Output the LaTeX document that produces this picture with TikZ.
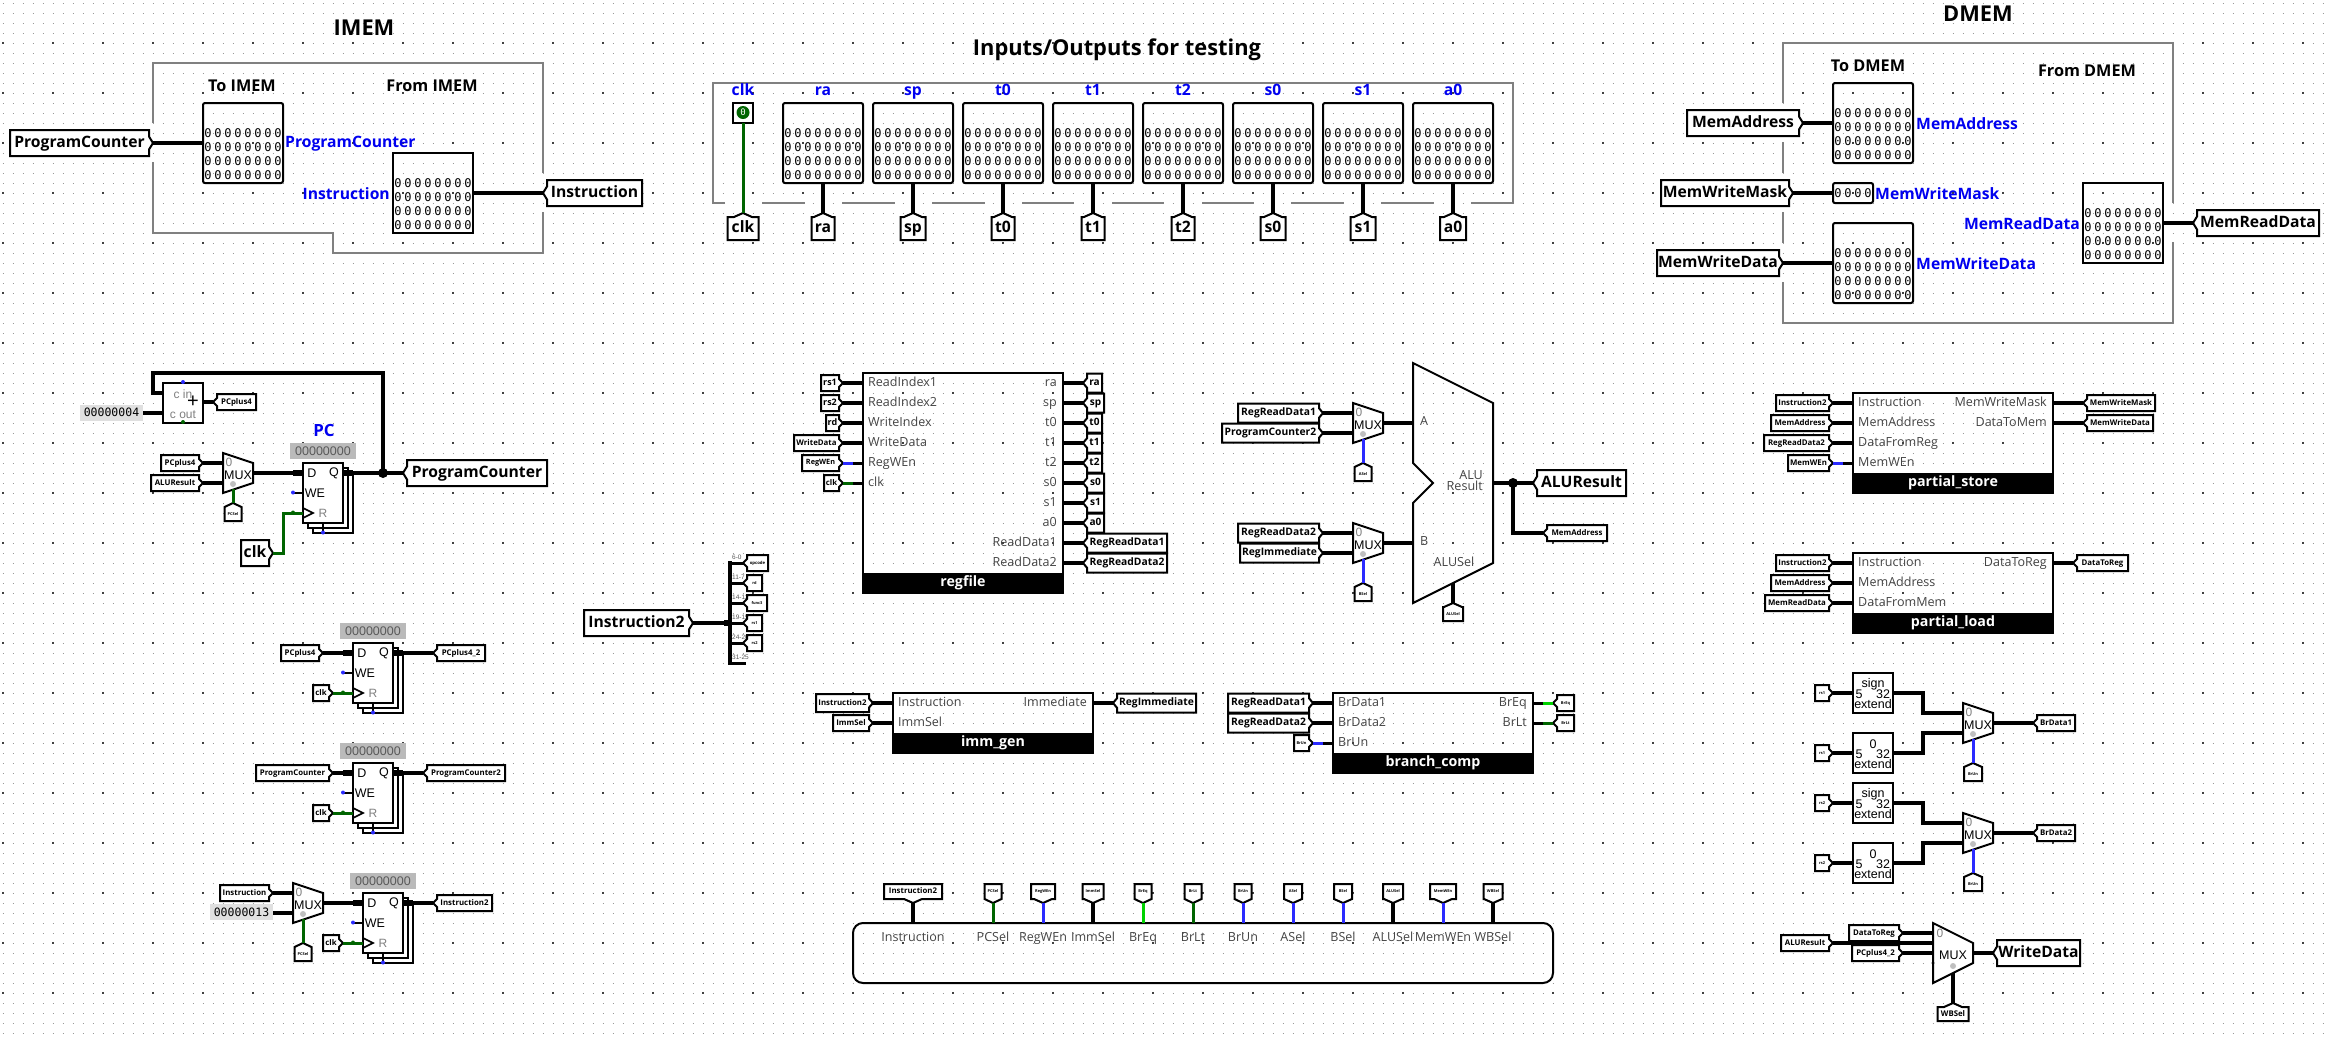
\documentclass[tikz,border=0pt]{standalone}
\usepackage{fontspec}
\setmainfont[Scale=1.12]{Open Sans}
\newfontfamily\hvf{Liberation Sans}
\newfontfamily\dmono{DejaVu Sans Mono}
\newfontfamily\pinmono[LetterSpace=23]{DejaVu Sans Mono}
\definecolor{dkgreen}{HTML}{006400}
\definecolor{brgreen}{HTML}{00D200}
\definecolor{wblue}{HTML}{2A2AFF}
\definecolor{lblue}{HTML}{0000F0}
\definecolor{frameg}{HTML}{808080}
\definecolor{portg}{HTML}{444444}
\tikzset{
 x=1pt,y=-1pt,
 bus/.style={line width=4pt,black,line join=miter},
 stub/.style={line width=6pt,black},
 gw/.style={line width=3pt,dkgreen,line join=miter},
 bw/.style={line width=3pt,wblue,line join=miter},
 lw/.style={line width=3pt,brgreen},
 frameline/.style={line width=2.8pt,frameg,line join=miter},
 tunshape/.style={draw=black,line width=2pt,fill=white,line join=miter},
 tuntext/.style={inner sep=0pt,outer sep=0pt,font=\bfseries},
 titletext/.style={inner sep=0pt,font=\bfseries\fontsize{19.5}{20}\selectfont},
 headtext/.style={inner sep=0pt,font=\bfseries\fontsize{14.5}{15}\selectfont},
 bluetext/.style={inner sep=0pt,text=lblue,font=\bfseries\fontsize{14}{15}\selectfont},
 porttext/.style={inner sep=0pt,text=portg,font=\fontsize{11.2}{12}\selectfont},
 subbox/.style={draw=black,line width=2pt,inner sep=0pt,outer sep=0pt},
 bandtext/.style={inner sep=0pt,text=white,font=\bfseries\fontsize{12.7}{13}\selectfont},
 pinout/.style={draw=black,line width=2pt,rounded corners=2pt,inner sep=0pt,outer sep=0pt},
 pinin/.style={draw=black,line width=2pt,inner sep=0pt,outer sep=0pt},
 rows/.style={inner sep=0pt,align=center,font=\pinmono\fontsize{12}{14}\selectfont},
 hvtext/.style={inner sep=0pt,font=\hvf\fontsize{12.5}{13}\selectfont},
 graylab/.style={inner sep=0pt,text=gray,font=\hvf\fontsize{12}{13}\selectfont},
 constbox/.style={fill=black!12,inner sep=0pt,outer sep=0pt,minimum width=63pt,minimum height=16pt,font=\dmono\fontsize{11.5}{12}\selectfont},
 initbox/.style={fill=black!27,text=black!65,inner sep=0pt,minimum width=66pt,minimum height=16pt,font=\hvf\fontsize{12.5}{13}\selectfont},
 partshape/.style={draw=black,line width=2pt,fill=white,line join=miter},
 splitlab/.style={inner sep=0pt,text=black!65,font=\hvf\fontsize{6.5}{7}\selectfont}
}
% tunnels: name, tip x, tip y, far edge, size across, font size, text
\newcommand\tunE[7]{\coordinate (#1) at (#2,#3);
 \draw[tunshape] (#4,{#3-#5/2}) -- ({#2-4},{#3-#5/2}) -- ({#2-4},{#3-#5/4}) -- (#2,#3) -- ({#2-4},{#3+#5/4}) -- ({#2-4},{#3+#5/2}) -- (#4,{#3+#5/2}) -- cycle;
 \node[tuntext] (#1-t) at ({(#4+#2-4)/2},#3) {\fontsize{#6}{#6}\selectfont\rule[-.2em]{0pt}{.95em}#7};}
\newcommand\tunW[7]{\coordinate (#1) at (#2,#3);
 \draw[tunshape] (#4,{#3-#5/2}) -- ({#2+4},{#3-#5/2}) -- ({#2+4},{#3-#5/4}) -- (#2,#3) -- ({#2+4},{#3+#5/4}) -- ({#2+4},{#3+#5/2}) -- (#4,{#3+#5/2}) -- cycle;
 \node[tuntext] (#1-t) at ({(#4+#2+4)/2},#3) {\fontsize{#6}{#6}\selectfont\rule[-.2em]{0pt}{.95em}#7};}
% name, x, tip y, far y, width, font size, text
\newcommand\tunN[7]{\coordinate (#1) at (#2,#3);
 \draw[tunshape] (#2,#3) -- ({#2+min(#5/2,9)},{#3+4}) -- ({#2+#5/2},{#3+4}) -- ({#2+#5/2},#4) -- ({#2-#5/2},#4) -- ({#2-#5/2},{#3+4}) -- ({#2-min(#5/2,9)},{#3+4}) -- cycle;
 \node[tuntext] (#1-t) at (#2,{(#4+#3+4)/2}) {\fontsize{#6}{#6}\selectfont\rule[-.2em]{0pt}{.95em}#7};}
\newcommand\tunS[7]{\coordinate (#1) at (#2,#3);
 \draw[tunshape] (#2,#3) -- ({#2+min(#5/2,9)},{#3-4}) -- ({#2+#5/2},{#3-4}) -- ({#2+#5/2},#4) -- ({#2-#5/2},#4) -- ({#2-#5/2},{#3-4}) -- ({#2-min(#5/2,9)},{#3-4}) -- cycle;
 \node[tuntext] (#1-t) at (#2,{(#4+#3-4)/2}) {\fontsize{#6}{#6}\selectfont\rule[-.2em]{0pt}{.95em}#7};}
% pin: name, style, centre x, top y
\newcommand\pinbox[4]{\node[#2,minimum width=80pt,minimum height=80pt] (#1) at (#3,{#4+40}) {};
 \node[rows] (#1-r) at (#3,{#4+51}) {00000000\\00000000\\00000000\\00000000};}
% mux: name, x, y
\newcommand\muxbox[3]{\draw[partshape] (#2,#3) -- ({#2+30},{#3+10}) -- ({#2+30},{#3+30}) -- (#2,{#3+40}) -- cycle;
 \node[hvtext] (#1-m) at ({#2+15},{#3+22}) {MUX};
 \node[graylab] (#1-z) at ({#2+6},{#3+9}) {0};
 \fill[black!25] ({#2+10},{#3+31}) circle (3);
 \coordinate (#1-a) at (#2,{#3+10}); \coordinate (#1-b) at (#2,{#3+30});
 \coordinate (#1-o) at ({#2+30},{#3+20}); \coordinate (#1-s) at ({#2+10},{#3+36});}
% register: name, x, y
\newcommand\regbox[3]{
 \draw[black,line width=1.6pt,line join=miter] ({#2+40},{#3+5}) -- ({#2+45},{#3+5}) -- ({#2+45},{#3+65}) -- ({#2+5},{#3+65}) -- ({#2+5},{#3+60});
 \draw[black,line width=1.6pt,line join=miter] ({#2+45},{#3+10}) -- ({#2+50},{#3+10}) -- ({#2+50},{#3+70}) -- ({#2+10},{#3+70}) -- ({#2+10},{#3+65});
 \draw[black,line width=1.6pt] ({#2+20},{#3+60}) -- ({#2+20},{#3+69});
 \node[partshape,minimum width=40pt,minimum height=60pt,inner sep=0pt,outer sep=0pt] (#1) at ({#2+20},{#3+30}) {};
 \node[initbox] (#1-i) at ({#2+20},{#3-12}) {00000000};
 \node[hvtext] (#1-d) at ({#2+9},{#3+10}) {D};
 \node[hvtext] (#1-q) at ({#2+31},{#3+10}) {Q};
 \node[hvtext] (#1-e) at ({#2+12},{#3+30}) {WE};
 \node[graylab] (#1-f) at ({#2+20},{#3+50}) {R};
 \draw[black,line width=1.6pt,line join=miter] (#2,{#3+45}) -- ({#2+10},{#3+50}) -- (#2,{#3+55});
 \draw[black,line width=1.6pt] ({#2-10},{#3+30}) -- (#2,{#3+30});
 \fill[wblue] ({#2-10},{#3+29.5}) circle (2);
 \fill[wblue] ({#2+20},{#3+69.5}) circle (2);
 \coordinate (#1-D) at (#2,{#3+10}); \coordinate (#1-Q) at ({#2+40},{#3+10}); \coordinate (#1-C) at (#2,{#3+50});
 \draw[stub] ({#2-10},{#3+10}) -- (#2,{#3+10});
 \draw[stub] ({#2+40},{#3+10}) -- ({#2+50},{#3+10});}
% extender: name, x, y, top word
\newcommand\extbox[4]{\node[partshape,minimum width=40pt,minimum height=40pt,inner sep=0pt,outer sep=0pt] (#1) at ({#2+20},{#3+20}) {};
 \node[hvtext] (#1-a) at ({#2+20},{#3+11}) {#4};
 \node[hvtext] (#1-b) at ({#2+6},{#3+21}) {5};
 \node[hvtext] (#1-c) at ({#2+30},{#3+21}) {32};
 \node[hvtext] (#1-d) at ({#2+20},{#3+31}) {extend};}
% subcircuit: name, x1, y1, x2, y2, band top, band text
\newcommand\subcirc[7]{\fill[black] (#2,#6) rectangle (#4,#5);
 \node[subbox,minimum width={#4-#2},minimum height={#5-#3}] (#1) at ({(#2+#4)/2},{(#3+#5)/2}) {};
 \node[bandtext] (#1-b) at ({(#2+#4)/2},{(#6+#5)/2}) {\rule[-.2em]{0pt}{.95em}#7};}
\newcommand\plab[4]{\node[porttext,anchor=west] (#1) at (#2,#3) {\rule[-.2em]{0pt}{.95em}#4};}
\newcommand\prab[4]{\node[porttext,anchor=east] (#1) at (#2,#3) {\rule[-.2em]{0pt}{.95em}#4};}
\begin{document}
\begin{tikzpicture}
\useasboundingbox (0,0) rectangle (2330,1042);
\fill[white] (0,0) rectangle (2330,1042);
% grid
\foreach \j in {0,...,103} \draw[black!40,line width=1pt,dash pattern=on 1pt off 9pt] (2.5,{3+10*\j}) -- (2330,{3+10*\j});
\foreach \j in {0,...,19} \draw[black!75,line width=1.4pt,dash pattern=on 1.4pt off 48.6pt] (2.3,{43+50*\j}) -- (2330,{43+50*\j});

% ---------- IMEM
\node[titletext] (timem) at (364,28) {IMEM};
\draw[frameline] (153,123) -- (153,63) -- (543,63) -- (543,173);
\draw[frameline] (543,212) -- (543,253) -- (333,253) -- (333,233) -- (153,233) -- (153,162);
\node[headtext] (toimem) at (242,86) {To IMEM};
\node[headtext] (fromimem) at (432,86) {From IMEM};
\tunE{pcA}{153}{143}{10}{26}{14}{ProgramCounter}
\tunW{insA}{543}{193}{642}{26}{14}{Instruction}
\pinbox{pimem}{pinout}{243}{103}
\pinbox{pins}{pinin}{433}{153}
\node[bluetext,anchor=west] (lpc) at (285,144) {ProgramCounter};
\node[bluetext,anchor=east] (lin) at (390,194) {Instruction};
\draw[bus] (pcA) -- (pcA -| pimem.west);
\draw[bus] (pins.east |- insA) -- (insA);

% ---------- testing
\node[titletext] (ttest) at (1117,50) {Inputs/Outputs for testing};
\draw[frameline] (725,203) -- (713,203) -- (713,83) -- (1513,83) -- (1513,203) -- (1471,203);
\foreach \ga/\gb in {762/805,842/895,932/985,1022/1074,1112/1164,1202/1254,1291/1344,1381/1434}
  \draw[frameline] (\ga,203) -- (\gb,203);
\node[draw=black,line width=2pt,minimum width=20pt,minimum height=20pt,inner sep=0pt,outer sep=0pt] (pclk) at (743,113) {};
\node[circle,fill=dkgreen,minimum size=13pt,inner sep=0pt,text=white,font=\dmono\fontsize{9}{9}\selectfont] (pclk-o) at (743,112.5) {0};
\node[bluetext] (lclk) at (743,91) {\rule[-.2em]{0pt}{.95em}clk};
\tunN{clkT}{743}{213}{240}{31}{14}{clk}
\draw[gw] (pclk.south) -- (clkT);
\foreach \n/\x/\w in {ra/823/23,sp/913/25,t0/1003/23,t1/1093/23,t2/1183/23,s0/1273/25,s1/1363/25,a0/1453/26}{
  \pinbox{pt\n}{pinout}{\x}{103}
  \node[bluetext] (lt\n) at (\x,91) {\rule[-.2em]{0pt}{.95em}\n};
  \tunN{tt\n}{\x}{213}{240}{\w}{14}{\n}
  \draw[bus] (pt\n.south) -- (tt\n);
}

% ---------- DMEM
\node[titletext] (tdmem) at (1978,14) {DMEM};
\draw[frameline] (1783,103) -- (1783,43) -- (2173,43) -- (2173,203);
\draw[frameline] (2173,242) -- (2173,323) -- (1783,323) -- (1783,282);
\draw[frameline] (1783,142) -- (1783,173);
\draw[frameline] (1783,212) -- (1783,243);
\node[headtext] (todmem) at (1868,66) {To DMEM};
\node[headtext] (fromdmem) at (2087,71) {From DMEM};
\tunE{maA}{1803}{123}{1687}{26}{14}{MemAddress}
\tunE{mmA}{1793}{193}{1661}{26}{14}{MemWriteMask}
\tunE{mdA}{1783}{263}{1657}{26}{14}{MemWriteData}
\tunW{mrA}{2193}{223}{2319}{26}{14}{MemReadData}
\pinbox{pma}{pinout}{1873}{83}
\node[pinout,minimum width=40pt,minimum height=20pt] (pmm) at (1853,193) {};
\node[rows] (pmm-r) at (1853,193) {0000};
\pinbox{pmd}{pinout}{1873}{223}
\pinbox{pmr}{pinin}{2123}{183}
\node[bluetext,anchor=west] (lma) at (1916,124) {MemAddress};
\node[bluetext,anchor=west] (lmm) at (1875,194) {MemWriteMask};
\node[bluetext,anchor=west] (lmd) at (1916,264) {MemWriteData};
\node[bluetext,anchor=east] (lmr) at (2080,224) {MemReadData};
\draw[bus] (maA) -- (maA -| pma.west);
\draw[bus] (mmA) -- (mmA -| pmm.west);
\draw[bus] (mdA) -- (mdA -| pmd.west);
\draw[bus] (mrA -| pmr.east) -- (mrA);

% ---------- PC section
\node[partshape,minimum width=40pt,minimum height=40pt,inner sep=0pt,outer sep=0pt] (add) at (183,403) {};
\node[graylab] (add-i) at (183,394) {c in};
\node[graylab] (add-o) at (183,415) {c out};
\node[inner sep=0pt,font=\hvf\fontsize{20}{20}\selectfont] (add-p) at (193,402) {+};
\fill[wblue] (183,382) circle (2);
\fill[dkgreen] (183,422) circle (2);
\node[constbox] (c4) at (111.5,412.5) {00000004};
\coordinate (addA) at (163,393);
\coordinate (jpc) at (383,473);
\draw[bus] (c4.east) -- (c4.east -| add.west);
\tunW{p4o}{213}{402}{256}{16}{7}{PCplus4}
\draw[bus] (add.east |- p4o) -- (p4o);
\muxbox{m1}{223}{453}
\tunE{p4i}{203}{463}{161}{16}{7}{PCplus4}
\tunE{alui}{203}{483}{151}{16}{7}{ALUResult}
\draw[bus] (p4i) -- (m1-a);
\draw[bus] (alui) -- (m1-b);
\tunN{pcs1}{233}{503}{521}{17}{3.5}{PCSel}
\draw[gw] (m1-s) -- (pcs1);
\regbox{rpc}{303}{463}
\node[inner sep=0pt,text=lblue,font=\bfseries\fontsize{15}{16}\selectfont] (lpcreg) at (324,430) {PC};
\draw[bus] (m1-o) -- (rpc-D);
\tunW{pcB}{403}{473}{547}{26}{14}{ProgramCounter}
\draw[bus] (rpc-Q) -- (pcB);
\draw[bus] (jpc) -- (383,373) -- (153,373) -- (153,393) -- (addA);
\fill[black] (jpc) circle (5);
\tunE{clk1}{273}{553}{241}{26}{14}{clk}
\draw[gw] (clk1) -- (283,553) -- (283,513) -- (rpc-C);
\fill[dkgreen] (293,512.5) circle (2);

% ---------- register 2
\regbox{r2}{353}{643}
\tunE{r2i}{323}{653}{281}{16}{7}{PCplus4}
\tunW{r2o}{433}{653}{485}{16}{7}{PCplus4\_2}
\tunE{r2c}{333}{693}{313}{16}{7}{clk}
\draw[bus] (r2i) -- (r2-D);
\draw[bus] (r2-Q) -- (r2o);
\draw[gw] (r2c) -- (r2-C);
\fill[dkgreen] (343,692.5) circle (2);

% ---------- register 3
\regbox{r3}{353}{763}
\tunE{r3i}{333}{773}{256}{16}{7}{ProgramCounter}
\tunW{r3o}{423}{773}{505}{16}{7}{ProgramCounter2}
\tunE{r3c}{333}{813}{313}{16}{7}{clk}
\draw[bus] (r3i) -- (r3-D);
\draw[bus] (r3-Q) -- (r3o);
\draw[gw] (r3c) -- (r3-C);
\fill[dkgreen] (343,812.5) circle (2);

% ---------- register 4
\muxbox{m4}{293}{883}
\tunE{m4i}{273}{893}{220}{16}{7}{Instruction}
\node[constbox] (c13) at (241.5,912) {00000013};
\draw[bus] (m4i) -- (m4-a);
\draw[bus] (c13.east |- m4-b) -- (m4-b);
\tunN{pcs4}{303}{943}{961}{17}{3.5}{PCSel}
\draw[gw] (m4-s) -- (pcs4);
\regbox{r4}{363}{893}
\tunW{r4o}{433}{903}{492}{16}{7}{Instruction2}
\tunE{r4c}{343}{943}{323}{16}{7}{clk}
\draw[bus] (m4-o) -- (r4-D);
\draw[bus] (r4-Q) -- (r4o);
\draw[gw] (r4c) -- (r4-C);
\fill[dkgreen] (353,942.5) circle (2);

% ---------- splitter
\tunE{spl}{693}{623}{584}{26}{14}{Instruction2}
\coordinate (sbar) at (730,623);
\coordinate (sbT) at (730,561);
\coordinate (sbB) at (730,665);
\draw[bus] (spl) -- (sbar);
\draw[stub] (724,623) -- (sbar);
\draw[line width=4pt,black] (sbT) -- (sbB);
\foreach \yy/\lab in {563/6-0,583/11-7,603/14-12,623/19-15,643/24-20,663/31-25}{
  \draw[line width=3pt,black] (730,\yy) -- (746,\yy);
  \node[splitlab,anchor=west] (sl\yy) at (732,{\yy-6}) {\lab};
}
\tunW{sp0}{743}{563}{768}{16}{3.8}{opcode}
\tunW{sp1}{743}{583}{762}{16}{3.5}{rd}
\tunW{sp2}{743}{603}{767}{16}{3.5}{func3}
\tunW{sp3}{743}{623}{762}{16}{3.5}{rs1}
\tunW{sp4}{743}{643}{762}{16}{3.5}{rs2}

% ---------- regfile
\subcirc{rf}{863}{373}{1063}{593}{573}{regfile}
\foreach \n/\yy/\lab/\xl/\fs in {a/383/rs1/821/8,b/403/rs2/821/8,c/423/rd/826/8,d/443/WriteData/794/7,e/463/RegWEn/802/6.5,f/483/clk/824/7}{
  \tunE{rfi\n}{843}{\yy}{\xl}{16}{\fs}{\lab}
}
\plab{rfl1}{868}{383}{ReadIndex1}
\plab{rfl2}{868}{403}{ReadIndex2}
\plab{rfl3}{868}{423}{WriteIndex}
\plab{rfl4}{868}{443}{WriteData}
\plab{rfl5}{868}{463}{RegWEn}
\plab{rfl6}{868}{483}{clk}
\draw[bus] (rfia) -- (rfia -| rf.west);
\draw[bus] (rfib) -- (rfib -| rf.west);
\draw[bus] (rfic) -- (rfic -| rf.west);
\draw[bus] (rfid) -- (rfid -| rf.west);
\draw[bw] (rfie) -- (853,463);
\draw[line width=3pt] (853,463) -- (rfie -| rf.west);
\draw[gw] (rfif) -- (853,483);
\draw[line width=3pt] (853,483) -- (rfif -| rf.west);
\foreach \n/\yy/\lab/\xr/\fs in {a/383/ra/1102/9,b/403/sp/1104/9,c/423/t0/1102/9,d/443/t1/1102/9,e/463/t2/1102/9,f/483/s0/1104/9,g/503/s1/1104/9,h/523/a0/1104/9}{
  \tunW{rfo\n}{1083}{\yy}{\xr}{19}{\fs}{\lab}
  \prab{rfr\n}{1057}{\yy}{\lab}
  \draw[bus] (rfo\n -| rf.east) -- (rfo\n);
}
\tunW{rfrd1}{1083}{543}{1167}{19}{9.2}{RegReadData1}
\tunW{rfrd2}{1083}{563}{1167}{19}{9.2}{RegReadData2}
\prab{rfr1}{1057}{543}{ReadData1}
\prab{rfr2}{1057}{563}{ReadData2}
\draw[bus] (rfrd1 -| rf.east) -- (rfrd1);
\draw[bus] (rfrd2 -| rf.east) -- (rfrd2);

% ---------- imm_gen
\subcirc{ig}{893}{693}{1093}{753}{733}{imm\_gen}
\tunE{igi}{873}{703}{816}{18}{7}{Instruction2}
\tunE{igs}{873}{723}{833}{16}{7}{ImmSel}
\tunW{igo}{1113}{703}{1196}{19}{9.2}{RegImmediate}
\plab{igl1}{898}{703}{Instruction}
\plab{igl2}{898}{723}{ImmSel}
\prab{igl3}{1087}{703}{Immediate}
\draw[bus] (igi) -- (igi -| ig.west);
\draw[bus] (igs) -- (igs -| ig.west);
\draw[bus] (igo -| ig.east) -- (igo);

% ---------- branch_comp
\subcirc{bc}{1333}{693}{1533}{773}{753}{branch\_comp}
\tunE{bci1}{1313}{703}{1228}{19}{9.2}{RegReadData1}
\tunE{bci2}{1313}{723}{1228}{19}{9.2}{RegReadData2}
\tunE{bci3}{1313}{743}{1294}{16}{3.5}{BrUn}
\plab{bcl1}{1338}{703}{BrData1}
\plab{bcl2}{1338}{723}{BrData2}
\plab{bcl3}{1338}{743}{BrUn}
\prab{bcl4}{1527}{703}{BrEq}
\prab{bcl5}{1527}{723}{BrLt}
\tunW{bco1}{1553}{703}{1574}{16}{3.5}{BrEq}
\tunW{bco2}{1553}{723}{1574}{16}{3.5}{BrLt}
\draw[bus] (bci1) -- (bci1 -| bc.west);
\draw[bus] (bci2) -- (bci2 -| bc.west);
\draw[bw] (bci3) -- (1323,743);
\draw[line width=3pt] (1323,743) -- (bci3 -| bc.west);
\draw[line width=3pt] (bco1 -| bc.east) -- (1543,703);
\draw[lw] (1543,703) -- (bco1);
\draw[line width=3pt] (bco2 -| bc.east) -- (1543,723);
\draw[gw] (1543,723) -- (bco2);

% ---------- ALU
\draw[black,line width=2pt,line join=miter] (1413,363) -- (1493,403) -- (1493,563) -- (1413,603) -- (1413,503) -- (1433,483) -- (1413,463) -- cycle;
\coordinate (aluA) at (1413,423); \coordinate (aluB) at (1413,543);
\coordinate (aluO) at (1493,483); \coordinate (aluS) at (1453,583);
\plab{all}{1420}{422}{A}
\plab{alb}{1420}{542}{B}
\prab{alr1}{1483}{476}{ALU}
\prab{alr2}{1483}{487}{Result}
\node[porttext] (als) at (1454,563) {\rule[-.2em]{0pt}{.95em}ALUSel};
\muxbox{ma}{1353}{403}
\muxbox{mb}{1353}{523}
\tunE{ma1}{1323}{413}{1238}{19}{9.2}{RegReadData1}
\tunE{ma2}{1323}{433}{1222}{19}{9.2}{ProgramCounter2}
\tunE{mb1}{1323}{533}{1238}{19}{9.2}{RegReadData2}
\tunE{mb2}{1323}{553}{1240}{19}{9.2}{RegImmediate}
\draw[bus] (ma1) -- (ma-a);
\draw[bus] (ma2) -- (ma-b);
\draw[bus] (mb1) -- (mb-a);
\draw[bus] (mb2) -- (mb-b);
\draw[bus] (ma-o) -- (aluA);
\draw[bus] (mb-o) -- (aluB);
\tunN{asel}{1363}{463}{481}{17}{3.5}{ASel}
\tunN{bsel}{1363}{583}{601}{17}{3.5}{BSel}
\draw[bw] (ma-s) -- (asel);
\draw[bw] (mb-s) -- (bsel);
\tunN{alusT}{1453}{603}{621}{20}{3.5}{ALUSel}
\draw[bus] (aluS) -- (alusT);
\tunW{aluR}{1533}{483}{1626}{26}{14}{ALUResult}
\tunW{aluM}{1543}{533}{1607}{16}{7}{MemAddress}
\coordinate (jalu) at (1513,483);
\draw[bus] (aluO) -- (aluR);
\draw[bus] (jalu) -- (1513,533) -- (aluM);
\fill[black] (jalu) circle (5);

% ---------- control
\node[draw=black,line width=2pt,rounded corners=10pt,minimum width=700pt,minimum height=60pt,inner sep=0pt,outer sep=0pt] (ctl) at (1203,953) {};
\foreach \n/\x/\w/\lab/\sty in {a/993/17/PCSel/gw,b/1043/24/RegWEn/bw,c/1093/21/ImmSel/bus,d/1143/17/BrEq/lw,e/1193/17/BrLt/gw,f/1243/17/BrUn/bw,g/1293/18/ASel/bw,h/1343/18/BSel/bw,i/1393/20/ALUSel/bus,j/1443/26/MemWEn/bw,k/1493/19/WBSel/bus}{
  \tunS{ct\n}{\x}{903}{884}{\w}{3.5}{\lab}
  \node[porttext] (cl\n) at (\x,938) {\rule[-.2em]{0pt}{.95em}\lab};
  \draw[\sty] (ct\n) -- (ct\n |- ctl.north);
}
\tunS{cti}{913}{903}{884}{58}{7}{Instruction2}
\node[porttext] (cli) at (913,938) {\rule[-.2em]{0pt}{.95em}Instruction};
\draw[bus] (cti) -- (cti |- ctl.north);

% ---------- partial_store
\subcirc{ps}{1853}{393}{2053}{493}{473}{partial\_store}
\foreach \n/\yy/\lab/\xl in {a/403/Instruction2/1776,b/423/MemAddress/1771,c/443/RegReadData2/1764,d/463/MemWEn/1788}{
  \tunE{psi\n}{1833}{\yy}{\xl}{16}{7}{\lab}
}
\plab{psl1}{1858}{403}{Instruction}
\plab{psl2}{1858}{423}{MemAddress}
\plab{psl3}{1858}{443}{DataFromReg}
\plab{psl4}{1858}{463}{MemWEn}
\prab{psl5}{2047}{403}{MemWriteMask}
\prab{psl6}{2047}{423}{DataToMem}
\draw[bus] (psia) -- (psia -| ps.west);
\draw[bus] (psib) -- (psib -| ps.west);
\draw[bus] (psic) -- (psic -| ps.west);
\draw[bw] (psid) -- (1843,463);
\draw[line width=3pt] (1843,463) -- (psid -| ps.west);
\tunW{pso1}{2083}{403}{2155}{16}{7}{MemWriteMask}
\tunW{pso2}{2083}{423}{2153}{16}{7}{MemWriteData}
\draw[bus] (pso1 -| ps.east) -- (pso1);
\draw[bus] (pso2 -| ps.east) -- (pso2);

% ---------- partial_load
\subcirc{pl}{1853}{553}{2053}{633}{613}{partial\_load}
\tunE{pli1}{1833}{563}{1776}{16}{7}{Instruction2}
\tunE{pli2}{1833}{583}{1771}{16}{7}{MemAddress}
\tunE{pli3}{1833}{603}{1765}{16}{7}{MemReadData}
\plab{pll1}{1858}{563}{Instruction}
\plab{pll2}{1858}{583}{MemAddress}
\plab{pll3}{1858}{603}{DataFromMem}
\prab{pll4}{2047}{563}{DataToReg}
\tunW{plo}{2073}{563}{2128}{16}{7}{DataToReg}
\draw[bus] (pli1) -- (pli1 -| pl.west);
\draw[bus] (pli2) -- (pli2 -| pl.west);
\draw[bus] (pli3) -- (pli3 -| pl.west);
\draw[bus] (plo -| pl.east) -- (plo);

% ---------- extenders, BrData muxes
\extbox{e1}{1853}{673}{sign}
\extbox{e2}{1853}{733}{0}
\extbox{e3}{1853}{783}{sign}
\extbox{e4}{1853}{843}{0}
\tunE{e1i}{1833}{693}{1815}{16}{3.5}{rs1}
\tunE{e2i}{1833}{753}{1815}{16}{3.5}{rs1}
\tunE{e3i}{1833}{803}{1815}{16}{3.5}{rs2}
\tunE{e4i}{1833}{863}{1815}{16}{3.5}{rs2}
\muxbox{bm1}{1963}{703}
\muxbox{bm2}{1963}{813}
\draw[bus] (e1i) -- (e1i -| e1.west);
\draw[bus] (e2i) -- (e2i -| e2.west);
\draw[bus] (e3i) -- (e3i -| e3.west);
\draw[bus] (e4i) -- (e4i -| e4.west);
\draw[bus] (e1.east) -- (1923,693) -- (1923,713) -- (bm1-a);
\draw[bus] (e2.east) -- (1923,753) -- (1923,733) -- (bm1-b);
\draw[bus] (e3.east) -- (1923,803) -- (1923,823) -- (bm2-a);
\draw[bus] (e4.east) -- (1923,863) -- (1923,843) -- (bm2-b);
\tunW{bd1}{2033}{723}{2075}{16}{7}{BrData1}
\tunW{bd2}{2033}{833}{2075}{16}{7}{BrData2}
\draw[bus] (bm1-o) -- (bd1);
\draw[bus] (bm2-o) -- (bd2);
\tunN{bu1}{1973}{763}{781}{18}{3.5}{BrUn}
\tunN{bu2}{1973}{873}{891}{18}{3.5}{BrUn}
\draw[bw] (bm1-s) -- (bu1);
\draw[bw] (bm2-s) -- (bu2);

% ---------- WB mux
\draw[partshape] (1933,923) -- (1973,943) -- (1973,963) -- (1933,983) -- cycle;
\node[hvtext] (wbm) at (1953,955) {MUX};
\node[graylab] (wb0) at (1940,933) {0};
\fill[black!25] (1953,966) circle (3);
\coordinate (wbA) at (1933,933); \coordinate (wbB) at (1933,943); \coordinate (wbC) at (1933,953);
\coordinate (wbO) at (1973,953); \coordinate (wbS) at (1953,973);
\fill[black] (1933,963) circle (1.6);
\tunE{wb1}{1903}{933}{1849}{16}{7}{DataToReg}
\tunE{wb2}{1833}{943}{1781}{16}{7}{ALUResult}
\tunE{wb3}{1903}{953}{1852}{16}{7}{PCplus4\_2}
\draw[bus] (wb1) -- (wbA);
\draw[bus] (wb2) -- (wbB);
\draw[bus] (wb3) -- (wbC);
\tunW{wbT}{1993}{953}{2080}{26}{14}{WriteData}
\draw[bus] (wbO) -- (wbT);
\tunN{wbs}{1953}{1003}{1021}{31}{7}{WBSel}
\draw[bus] (wbS) -- (wbs);
\end{tikzpicture}
\end{document}
